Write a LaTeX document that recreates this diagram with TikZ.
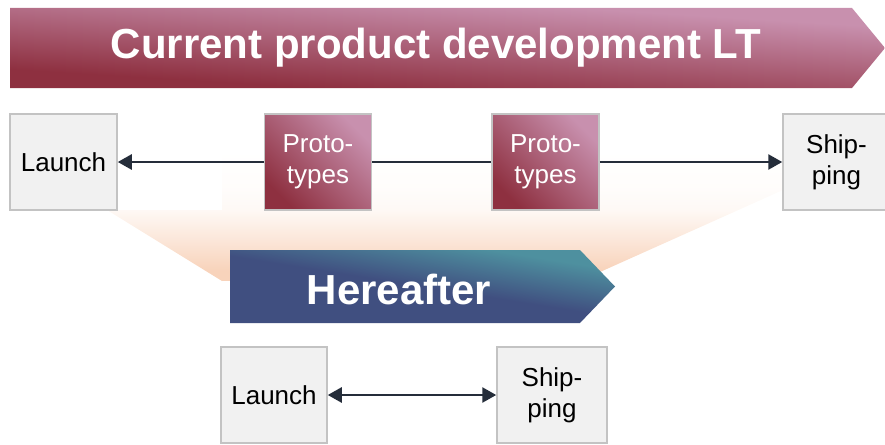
\documentclass[tikz,border=0pt]{standalone}
\usepackage{fontspec}
\setmainfont{Liberation Sans}
\usetikzlibrary{arrows.meta}
\definecolor{bannerDark}{HTML}{8E3040}
\definecolor{bannerLight}{HTML}{C890AE}
\definecolor{hereNavy}{HTML}{404F80}
\definecolor{hereTeal}{HTML}{4E909F}
\definecolor{fanPeach}{HTML}{F8D3BB}
\definecolor{boxFill}{HTML}{F1F1F1}
\definecolor{boxLine}{HTML}{C3C3C3}
\definecolor{connColor}{HTML}{252D3A}
\pgfdeclareverticalshading{fanshade}{100bp}{color(0bp)=(fanPeach); color(29bp)=(fanPeach); color(41bp)=(fanPeach!55!white); color(52bp)=(fanPeach!15!white); color(60bp)=(fanPeach!6!white); color(75bp)=(white); color(100bp)=(white)}
\begin{document}
\begin{tikzpicture}[x=1pt,y=-1pt,
  plainbox/.style={draw=boxLine, line width=1.5pt, fill=boxFill,
    minimum width=107pt, minimum height=96pt, inner sep=0pt, align=center,
    font=\fontsize{26}{31}\selectfont},
  protobox/.style={plainbox, top color=bannerLight, bottom color=bannerDark,
    shading angle=-45, text=white},
  conn/.style={draw=connColor, line width=2.6pt},
  headtip/.style={-{Triangle[length=14pt,width=15pt]}},
  bothtip/.style={{Triangle[length=14pt,width=15pt]}-{Triangle[length=14pt,width=15pt]}},
  bigtext/.style={text=white, font=\fontsize{42}{50}\selectfont\bfseries}
]
\useasboundingbox (0,0) rectangle (885,444);
\clip (0,0) rectangle (885,444);

% fan
\shade[shading=fanshade]
  (107,210) -- (222,210) -- (222,150) -- (783,150) -- (783,190)
  -- (600,272) -- (222,281) -- cycle;

% banner (shading in normalised space)
\begin{scope}[transform canvas={xshift=10pt, yshift=-88pt, xscale=8.75, yscale=0.8}, x=1pt, y=1pt]
  \shade[top color=bannerLight, bottom color=bannerDark, shading angle=-34]
    (0,0) -- (96.23,0) -- (100,50) -- (96.23,100) -- (0,100) -- cycle;
\end{scope}
\node[bigtext] (title) at (436,48) {Current product development LT};

% top row
\node[plainbox] (l1) at (63.5,162) {Launch};
\node[protobox] (p1) at (318,162) {Proto-\\types};
\node[protobox] (p2) at (545.5,162) {Proto-\\types};
\node[plainbox] (s1) at (836.5,162) {Ship-\\ping};

\draw[conn, headtip] (p1.west) -- (l1.east);
\draw[conn] (p1.east) -- (p2.west);
\draw[conn, headtip] (p2.east) -- (s1.west);

% hereafter arrow (shading in normalised space)
\begin{scope}[transform canvas={xshift=230pt, yshift=-323pt, xscale=3.85, yscale=0.73}, x=1pt, y=1pt]
  \shade[top color=hereTeal, bottom color=hereNavy, middle color=hereNavy, shading angle=-40]
    (0,0) -- (90.9,0) -- (100,50) -- (90.9,100) -- (0,100) -- cycle;
\end{scope}
\node[bigtext] (here) at (399,289) {Hereafter};

% bottom row
\node[plainbox, minimum width=106pt] (l2) at (274,395) {Launch};
\node[plainbox, minimum width=110pt] (s2) at (552,395) {Ship-\\ping};
\draw[conn, bothtip] (l2.east) -- (s2.west);
\end{tikzpicture}
\end{document}
